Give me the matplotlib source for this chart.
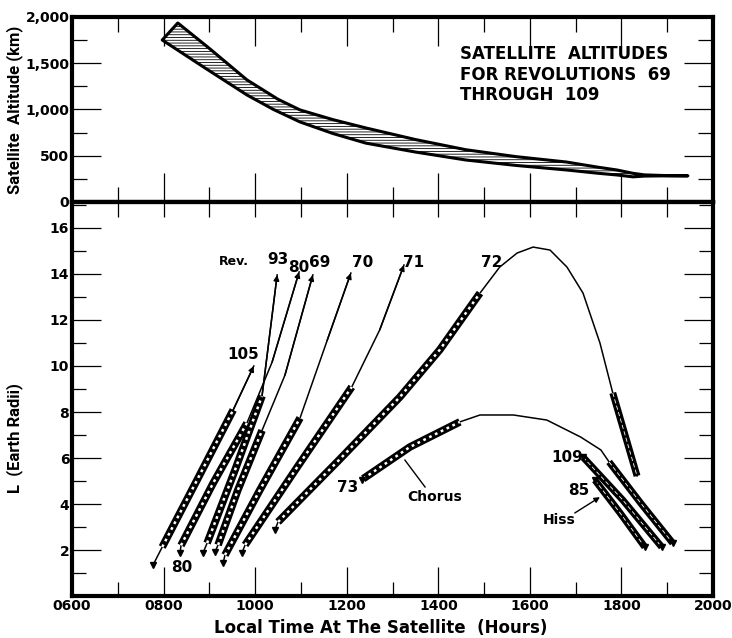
import numpy as np
import matplotlib.pyplot as plt
from matplotlib import font_manager
from matplotlib.patches import Polygon
from matplotlib.ticker import MultipleLocator, FuncFormatter

# ---------------------------------------------------------
# DATA  (local time in decimal hours, altitude in km, L in Earth radii)
# ---------------------------------------------------------
alt_upper_hr = [8.31, 9.00, 9.82, 10.50, 10.98, 11.70, 12.42, 13.50, 14.60, 15.70, 16.80, 17.50, 17.90, 18.25, 18.50, 19.00, 19.45]
alt_upper_km = [1935, 1660, 1320, 1110, 995, 890, 800, 675, 565, 490, 432, 375, 346, 310, 293, 285, 283]
alt_lower_hr = [7.97, 8.90, 9.82, 10.40, 10.98, 11.70, 12.42, 13.50, 14.60, 15.70, 16.80, 17.50, 17.90, 18.25, 18.50, 19.00, 19.45]
alt_lower_km = [1751, 1450, 1157, 1000, 865, 740, 636, 540, 454, 395, 346, 310, 292, 272, 280, 283, 283]

rev105_hr = [7.77, 7.97, 8.73, 9.52, 9.97]
rev105_L = [1.35, 2.13, 5.04, 8.09, 10.00]
rev105_chorus = (7.97, 9.52)

rev80_hr = [8.36, 8.38, 9.08, 9.82, 10.37, 10.96]
rev80_L = [1.87, 2.20, 4.90, 7.52, 10.17, 14.09]
rev80_chorus = (8.38, 9.82)

rev93_hr = [8.86, 8.95, 9.56, 10.15, 10.48]
rev93_L = [1.87, 2.30, 5.48, 8.70, 13.96]
rev93_chorus = (8.95, 10.15)

rev69_hr = [9.12, 9.19, 9.62, 10.15, 10.65, 11.26]
rev69_L = [1.91, 2.22, 4.60, 7.20, 9.60, 13.96]
rev69_chorus = (9.19, 10.15)

rev70_hr = [9.30, 9.34, 10.10, 10.98, 11.57, 12.09]
rev70_L = [1.43, 1.78, 4.60, 7.74, 11.10, 14.04]
rev70_chorus = (9.34, 10.98)

rev71_hr = [9.71, 9.78, 10.90, 12.11, 12.72, 13.25]
rev71_L = [1.87, 2.22, 5.55, 9.09, 11.57, 14.39]
rev71_chorus = (9.78, 12.11)

rev72_hr = [10.43, 10.50, 11.83, 13.16, 14.03, 14.91, 15.34, 15.72, 16.07, 16.44, 16.81, 17.16, 17.53, 17.81, 18.34]
rev72_L = [2.87, 3.22, 5.91, 8.65, 10.70, 13.17, 14.30, 14.91, 15.17, 15.04, 14.30, 13.17, 11.00, 8.83, 5.22]
rev72_chorus = (10.50, 14.91)
rev72_hiss = (17.81, 18.34)

rev73_hr = [12.33, 12.36, 13.38, 14.47, 14.91, 15.64, 16.37, 17.11, 17.55, 17.73, 18.42, 19.12]
rev73_L = [5.04, 5.10, 6.48, 7.57, 7.87, 7.87, 7.65, 6.91, 6.35, 5.83, 4.04, 2.30]
rev73_chorus = (12.36, 14.47)
rev73_hiss = (17.73, 19.12)

rev109_hr = [17.16, 18.03, 18.88]
rev109_L = [6.04, 4.17, 2.13]

rev85_hr = [17.42, 17.97, 18.51]
rev85_L = [5.04, 3.61, 2.13]

alt_ticks = [0, 500, 1000, 1500, 2000]
alt_tick_labels = ["0", "500", "1,000", "1,500", "2,000"]
L_ticks = [2, 4, 6, 8, 10, 12, 14, 16]

# ---------------------------------------------------------
# STYLE
# ---------------------------------------------------------
plt.rcParams['font.family'] = ['DejaVu Sans']
plt.rcParams['font.weight'] = 'bold'
plt.rcParams['axes.labelweight'] = 'bold'
plt.rcParams['hatch.linewidth'] = 0.6
SPINE_W = 3.0

# the original lettering is fairly narrow; Roboto is narrower than DejaVu
installed = {f.name for f in font_manager.fontManager.ttflist}
if 'Roboto' in installed:
    YLAB = dict(family='Roboto', fontsize=12, fontweight='bold')
else:
    YLAB = dict(family='DejaVu Sans', fontsize=9.5, fontweight='bold')


def style_axes(ax):
    for s in ax.spines.values():
        s.set_linewidth(SPINE_W)
    ax.tick_params(which='both', direction='in', width=0.9, labelsize=10)


def draw_track(ax, hr, L, chorus=None, hiss=None, arrow=False,
               mark_start=True, mark_end=False):
    hr = np.asarray(hr)
    L = np.asarray(L)
    ax.plot(hr, L, color='k', lw=1.1)
    if chorus is not None:
        m = (hr >= chorus[0] - 1e-9) & (hr <= chorus[1] + 1e-9)
        ax.plot(hr[m], L[m], color='k', lw=5.5, solid_capstyle='butt')
        ax.plot(hr[m], L[m], color='w', lw=1.8, dashes=(1.1, 1.5))
    if hiss is not None:
        m = (hr >= hiss[0] - 1e-9) & (hr <= hiss[1] + 1e-9)
        ax.plot(hr[m], L[m], color='k', lw=5.0, solid_capstyle='butt')
        ax.plot(hr[m], L[m], color='w', lw=0.6, dashes=(5, 3))
    if arrow:
        ax.annotate('', xy=(hr[-1], L[-1]), xytext=(hr[-2], L[-2]),
                    arrowprops=dict(arrowstyle='-|>', color='k', lw=1.1,
                                    mutation_scale=8, shrinkA=0, shrinkB=0))
    if mark_start:
        ax.plot(hr[0], L[0], marker='v', ms=4, color='k')
    if mark_end:
        ax.plot(hr[-1], L[-1], marker='v', ms=4, color='k')


hour_fmt = FuncFormatter(lambda v, p: f"{int(round(v)):02d}00")

fig = plt.figure(figsize=(7.32, 6.38), dpi=100)
ax1 = fig.add_axes([0.0984, 0.6834, 0.8757, 0.2900])
ax2 = fig.add_axes([0.0984, 0.0658, 0.8757, 0.6176])

# ---------------------------------------------------------
# TOP PANEL: satellite altitude band
# ---------------------------------------------------------
style_axes(ax1)
band_x = list(alt_upper_hr) + list(alt_lower_hr[::-1])
band_y = list(alt_upper_km) + list(alt_lower_km[::-1])
ax1.add_patch(Polygon(np.column_stack([band_x, band_y]), closed=True,
                      facecolor='white', edgecolor='k', lw=2.2,
                      hatch='------', joinstyle='round'))
ax1.set_xlim(6, 20)
ax1.set_ylim(0, 2000)
ax1.xaxis.set_major_locator(MultipleLocator(2))
ax1.xaxis.set_minor_locator(MultipleLocator(1))
ax1.yaxis.set_minor_locator(MultipleLocator(250))
ax1.set_yticks(alt_ticks)
ax1.set_yticklabels(alt_tick_labels)
ax1.tick_params(which='both', top=True, right=True, labelbottom=False)
ax1.tick_params(which='major', length=21, pad=2)
ax1.tick_params(which='minor', length=11)
ax1.set_ylabel('Satellite  Altitude (km)', **YLAB)
ax1.yaxis.set_label_coords(-0.077, 0.5)
ax1.text(0.605, 0.85, 'SATELLITE  ALTITUDES\nFOR REVOLUTIONS  69\nTHROUGH  109',
         transform=ax1.transAxes, fontsize=12, va='top', ha='left',
         linespacing=1.2)

# ---------------------------------------------------------
# BOTTOM PANEL: L vs local time
# ---------------------------------------------------------
style_axes(ax2)
ax2.set_xlim(6, 20)
ax2.set_ylim(0, 17.13)
ax2.xaxis.set_major_locator(MultipleLocator(2))
ax2.xaxis.set_minor_locator(MultipleLocator(1))
ax2.xaxis.set_major_formatter(hour_fmt)
ax2.yaxis.set_minor_locator(MultipleLocator(1))
ax2.set_yticks(L_ticks)
ax2.tick_params(which='both', right=True)
ax2.tick_params(which='major', length=21, pad=2)
ax2.tick_params(which='minor', length=10)
sec = ax2.secondary_xaxis('top')
sec.xaxis.set_major_locator(MultipleLocator(1))
sec.tick_params(which='both', direction='in', length=11, width=0.9, labeltop=False)
sec.spines['top'].set_linewidth(SPINE_W)

draw_track(ax2, rev105_hr, rev105_L, chorus=rev105_chorus, arrow=True)
draw_track(ax2, rev80_hr, rev80_L, chorus=rev80_chorus, arrow=True)
draw_track(ax2, rev93_hr, rev93_L, chorus=rev93_chorus, arrow=True)
draw_track(ax2, rev69_hr, rev69_L, chorus=rev69_chorus, arrow=True)
draw_track(ax2, rev70_hr, rev70_L, chorus=rev70_chorus, arrow=True)
draw_track(ax2, rev71_hr, rev71_L, chorus=rev71_chorus, arrow=True)
draw_track(ax2, rev72_hr, rev72_L, chorus=rev72_chorus, hiss=rev72_hiss)
draw_track(ax2, rev73_hr, rev73_L, chorus=rev73_chorus, hiss=rev73_hiss, mark_end=True)
draw_track(ax2, rev109_hr, rev109_L, hiss=(rev109_hr[0], rev109_hr[-1]), mark_end=True)
draw_track(ax2, rev85_hr, rev85_L, hiss=(rev85_hr[0], rev85_hr[-1]), mark_end=True)

lab = dict(fontsize=11, ha='center', va='center')
ax2.text(9.53, 14.55, 'Rev.', fontsize=9, ha='center', va='center')
ax2.text(10.50, 14.62, '93', **lab)
ax2.text(10.96, 14.30, '80', **lab)
ax2.text(11.40, 14.48, '69', **lab)
ax2.text(12.35, 14.48, '70', **lab)
ax2.text(13.45, 14.52, '71', **lab)
ax2.text(15.17, 14.52, '72', **lab)
ax2.text(9.73, 10.48, '105', **lab)
ax2.text(8.40, 1.22, '80', **lab)
ax2.text(12.03, 4.70, '73', **lab)
ax2.text(16.81, 6.04, '109', **lab)
ax2.text(17.07, 4.57, '85', **lab)
ax2.text(16.63, 3.30, 'Hiss', fontsize=10, ha='center', va='center')
ax2.text(13.93, 4.30, 'Chorus', fontsize=10, ha='center', va='center')
ax2.annotate('', xy=(17.53, 4.30), xytext=(16.98, 3.61),
             arrowprops=dict(arrowstyle='-|>', color='k', lw=1.0,
                             mutation_scale=8, shrinkA=0, shrinkB=0))
ax2.plot([13.71, 13.27], [4.74, 5.91], color='k', lw=1.0)

ax2.set_ylabel('L  (Earth Radii)', **YLAB)
ax2.yaxis.set_label_coords(-0.077, 0.40)
ax2.set_xlabel('Local Time At The Satellite  (Hours)', fontsize=12)
ax2.xaxis.set_label_coords(0.482, -0.058)

fig.savefig('out.png', dpi=100)
